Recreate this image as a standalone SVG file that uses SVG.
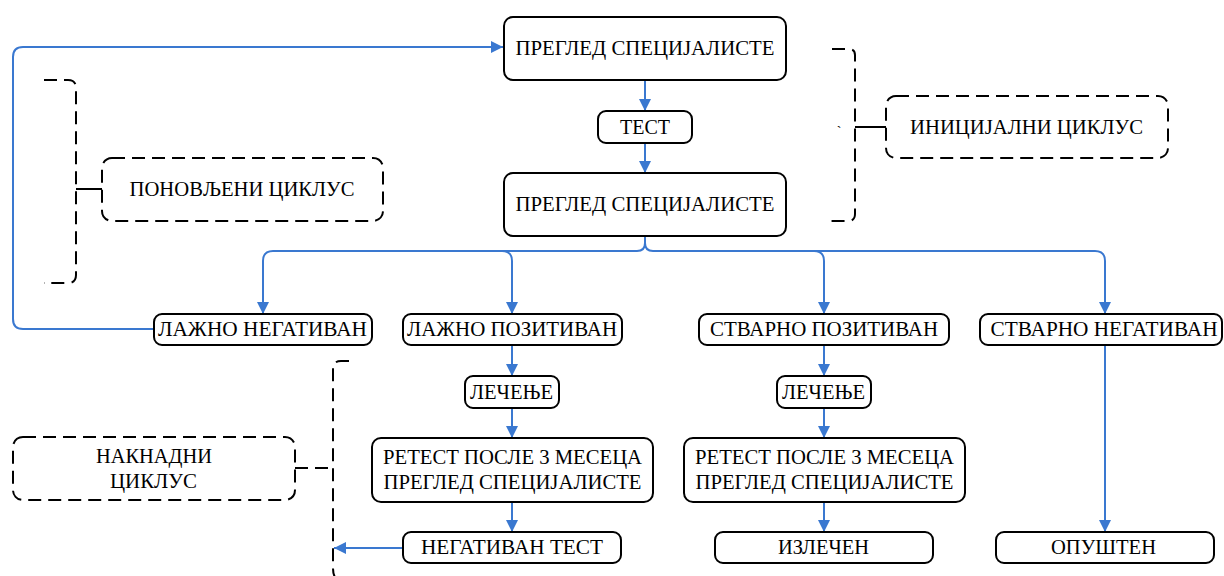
<svg xmlns="http://www.w3.org/2000/svg" width="1224" height="576" viewBox="0 0 1224 576">
<defs>
<marker id="ah" markerWidth="12" markerHeight="12" refX="12" refY="6" orient="auto" markerUnits="userSpaceOnUse">
<path d="M0,0 L12,6 L0,12 Z" fill="#3A78D0"/>
</marker>
<style>
.n{fill:#fff;stroke:#000;stroke-width:2}
.d{fill:#fff;stroke:#000;stroke-width:2;stroke-dasharray:13 7}
.dl{fill:none;stroke:#000;stroke-width:2;stroke-dasharray:13 7}
.sl{fill:none;stroke:#000;stroke-width:2}
.a{fill:none;stroke:#3A78D0;stroke-width:2;marker-end:url(#ah)}
.t{font-family:'Liberation Serif','DejaVu Serif',serif;font-size:20px;fill:#000;text-anchor:middle}
</style>
</defs>
<rect width="1224" height="576" fill="#fff"/>

<g id="connectors">
<path class="a" d="M154,329 H23 Q13,329 13,319 V57 Q13,47 23,47 H503"/>
<path class="a" d="M645,80 V111"/>
<path class="a" d="M645,143 V173"/>
<path class="a" d="M645,236 V243 Q645,251 637,251 H273 Q263,251 263,261 V314"/>
<path class="a" d="M645,236 V243 Q645,251 653,251 H1095 Q1105,251 1105,261 V314"/>
<path class="a" d="M502,251 Q512,251 512,261 V314"/>
<path class="a" d="M814,251 Q824,251 824,261 V314"/>
<path class="a" d="M512,345 V376"/>
<path class="a" d="M512,408 V438"/>
<path class="a" d="M512,502 V532"/>
<path class="a" d="M824,345 V376"/>
<path class="a" d="M824,408 V438"/>
<path class="a" d="M824,502 V532"/>
<path class="a" d="M1105,345 V532"/>
<path class="a" d="M403,548 H334"/>
</g>

<g id="bracket-ponovljeni">
<path class="dl" d="M44,80 H68 Q76,80 76,88 V275 Q76,283 68,283 H44"/>
<path class="sl" d="M76,189 H102"/>
</g>
<g id="bracket-inicijalni">
<path class="dl" d="M832,49 H849 Q855,49 855,55 V214 Q855,221 848,221 H829"/>
<path class="sl" d="M855,127 H886"/>
<text class="t" x="839" y="136" style="font-size:14px">`</text>
</g>
<g id="bracket-naknadni">
<path class="dl" d="M349,361 H341 Q333,361 333,369 V568 Q333,576 337,580"/>
<path class="dl" d="M295,468 H333"/>
</g>

<g id="n-pregled1"><rect class="n" x="504" y="17" width="282" height="63" rx="9"/><text class="t" x="645" y="55" textLength="259" lengthAdjust="spacingAndGlyphs">ПРЕГЛЕД СПЕЦИЈАЛИСТЕ</text></g>
<g id="n-test"><rect class="n" x="598" y="111" width="94" height="32" rx="8"/><text class="t" x="645" y="134" textLength="50" lengthAdjust="spacingAndGlyphs">ТЕСТ</text></g>
<g id="n-pregled2"><rect class="n" x="504" y="173" width="282" height="63" rx="9"/><text class="t" x="645" y="211" textLength="259" lengthAdjust="spacingAndGlyphs">ПРЕГЛЕД СПЕЦИЈАЛИСТЕ</text></g>

<g id="n-ponovljeni"><rect class="d" x="102" y="158" width="281" height="63" rx="10"/><text class="t" x="242" y="196" textLength="225" lengthAdjust="spacingAndGlyphs">ПОНОВЉЕНИ ЦИКЛУС</text></g>
<g id="n-inicijalni"><rect class="d" x="886" y="96" width="282" height="62" rx="10"/><text class="t" x="1026.5" y="134" textLength="233" lengthAdjust="spacingAndGlyphs">ИНИЦИЈАЛНИ ЦИКЛУС</text></g>
<g id="n-naknadni"><rect class="d" x="13" y="437" width="282" height="63" rx="10"/><text class="t" x="154" y="463" textLength="116" lengthAdjust="spacingAndGlyphs">НАКНАДНИ</text><text class="t" x="153.5" y="488" textLength="87" lengthAdjust="spacingAndGlyphs">ЦИКЛУС</text></g>

<g id="n-ln"><rect class="n" x="154" y="314" width="218" height="31" rx="8"/><text class="t" x="262.5" y="336" textLength="209" lengthAdjust="spacingAndGlyphs">ЛАЖНО НЕГАТИВАН</text></g>
<g id="n-lp"><rect class="n" x="403" y="314" width="219" height="31" rx="8"/><text class="t" x="512" y="336" textLength="210" lengthAdjust="spacingAndGlyphs">ЛАЖНО ПОЗИТИВАН</text></g>
<g id="n-sp"><rect class="n" x="699" y="314" width="250" height="31" rx="8"/><text class="t" x="824" y="336" textLength="228" lengthAdjust="spacingAndGlyphs">СТВАРНО ПОЗИТИВАН</text></g>
<g id="n-sn"><rect class="n" x="980" y="314" width="242" height="31" rx="8"/><text class="t" x="1104" y="336" textLength="227" lengthAdjust="spacingAndGlyphs">СТВАРНО НЕГАТИВАН</text></g>

<g id="n-lecenje1"><rect class="n" x="465" y="376" width="94" height="32" rx="8"/><text class="t" x="511.5" y="399" textLength="83" lengthAdjust="spacingAndGlyphs">ЛЕЧЕЊЕ</text></g>
<g id="n-lecenje2"><rect class="n" x="777" y="376" width="94" height="32" rx="8"/><text class="t" x="823.5" y="399" textLength="83" lengthAdjust="spacingAndGlyphs">ЛЕЧЕЊЕ</text></g>

<g id="n-retest1"><rect class="n" x="372" y="438" width="281" height="64" rx="9"/><text class="t" x="512.5" y="464" textLength="259" lengthAdjust="spacingAndGlyphs">РЕТЕСТ ПОСЛЕ 3 МЕСЕЦА</text><text class="t" x="512.5" y="489" textLength="258" lengthAdjust="spacingAndGlyphs">ПРЕГЛЕД СПЕЦИЈАЛИСТЕ</text></g>
<g id="n-retest2"><rect class="n" x="684" y="438" width="281" height="64" rx="9"/><text class="t" x="824.5" y="464" textLength="259" lengthAdjust="spacingAndGlyphs">РЕТЕСТ ПОСЛЕ 3 МЕСЕЦА</text><text class="t" x="824.5" y="489" textLength="258" lengthAdjust="spacingAndGlyphs">ПРЕГЛЕД СПЕЦИЈАЛИСТЕ</text></g>

<g id="n-negtest"><rect class="n" x="403" y="532" width="218" height="31" rx="8"/><text class="t" x="512" y="554" textLength="182" lengthAdjust="spacingAndGlyphs">НЕГАТИВАН ТЕСТ</text></g>
<g id="n-izlecen"><rect class="n" x="715" y="532" width="218" height="31" rx="8"/><text class="t" x="823.5" y="554" textLength="91" lengthAdjust="spacingAndGlyphs">ИЗЛЕЧЕН</text></g>
<g id="n-opusten"><rect class="n" x="996" y="532" width="218" height="31" rx="8"/><text class="t" x="1103.5" y="554" textLength="105" lengthAdjust="spacingAndGlyphs">ОПУШТЕН</text></g>
</svg>
